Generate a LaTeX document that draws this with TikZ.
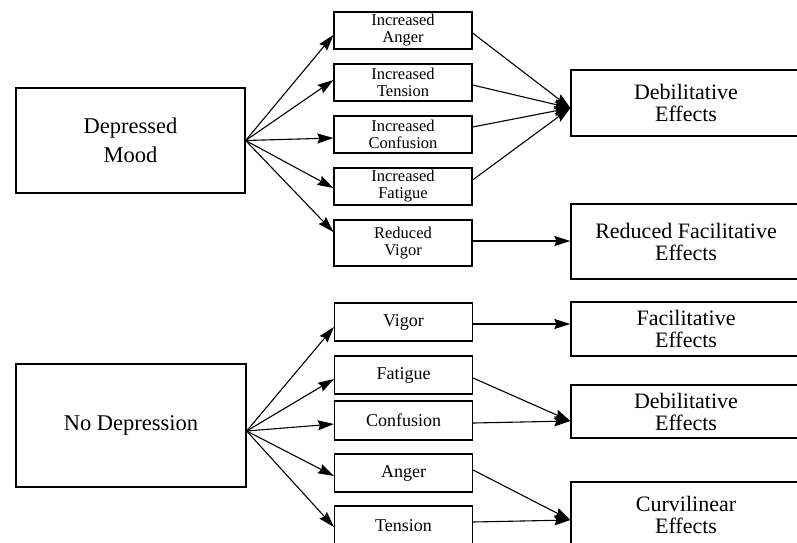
\documentclass[tikz,border=0pt]{standalone}
\usepackage{fontspec}
\setmainfont{Liberation Serif}
\usetikzlibrary{arrows.meta}
\tikzset{
  bigbox/.style={draw, line width=1.3pt, inner sep=0pt, align=center, font=\fontsize{22.5}{29}\selectfont},
  midbox/.style={draw, line width=1.2pt, inner sep=0pt, align=center, minimum width=138pt, font=\fontsize{16.5}{17}\selectfont},
  effbox/.style={draw, line width=1.3pt, inner sep=0pt, align=center, minimum width=230pt, font=\fontsize{22}{22}\selectfont},
  arr/.style={line width=1.1pt, -{Stealth[length=16pt,width=10pt,inset=2pt]}}
}
\begin{document}
\begin{tikzpicture}[x=1pt,y=-1pt]
\useasboundingbox (0,0) rectangle (797,542);
\clip (0,0) rectangle (797,542);
\fill[white] (0,0) rectangle (797,542);
% top group
\node[bigbox, minimum width=229pt, minimum height=105pt] (dm) at (130.5,140.5) {Depressed\\Mood};
\node[midbox, minimum height=37pt] (ia) at (403,30.5) {Increased\\Anger};
\node[midbox, minimum height=37pt] (it) at (403,82.5) {Increased\\Tension};
\node[midbox, minimum height=37pt] (ic) at (403,134.5) {Increased\\Confusion};
\node[midbox, minimum height=37pt] (ifa) at (403,186.5) {Increased\\Fatigue};
\node[midbox, minimum height=46pt] (rv) at (403,243) {Reduced\\Vigor};
\node[effbox, minimum height=66pt] (de1) at (686,103) {Debilitative\\Effects};
\node[effbox, minimum height=75pt] (rfe) at (686,241.5) {Reduced Facilitative\\Effects};
% bottom group
\node[bigbox, minimum width=230pt, minimum height=123pt] (nd) at (131,425.5) {No Depression};
\node[midbox, minimum height=38pt, font=\fontsize{18}{18}\selectfont] (v) at (403.5,322) {Vigor};
\node[midbox, minimum height=38pt, font=\fontsize{18}{18}\selectfont] (f) at (403.5,375) {Fatigue};
\node[midbox, minimum height=39pt, font=\fontsize{18}{18}\selectfont] (c) at (403.5,420.5) {Confusion};
\node[midbox, minimum height=38pt, font=\fontsize{18}{18}\selectfont] (a) at (403.5,473) {Anger};
\node[midbox, minimum height=40pt, font=\fontsize{18}{18}\selectfont] (t) at (403.5,526) {Tension};
\node[effbox, minimum height=54pt] (fe) at (686,329) {Facilitative\\Effects};
\node[effbox, minimum height=53pt] (de2) at (686,411.5) {Debilitative\\Effects};
\node[effbox, minimum height=66pt] (ce) at (686,515) {Curvilinear\\Effects};
% arrows top
\draw[arr] (dm.east) -- ([yshift=-4.5pt]ia.west);
\draw[arr] (dm.east) -- ([yshift=2.5pt]it.west);
\draw[arr] (dm.east) -- ([yshift=-3.5pt]ic.west);
\draw[arr] (dm.east) -- ([yshift=-1.5pt]ifa.west);
\draw[arr] (dm.east) -- ([yshift=11pt]rv.west);
\draw[arr] ([yshift=-2.5pt]ia.east) -- ([yshift=-5pt]de1.west);
\draw[arr] ([yshift=-2.5pt]it.east) -- ([yshift=-5pt]de1.west);
\draw[arr] ([yshift=7.5pt]ic.east) -- ([yshift=-5pt]de1.west);
\draw[arr] ([yshift=6.5pt]ifa.east) -- ([yshift=-5pt]de1.west);
\draw[arr] ([yshift=2pt]rv.east) -- ([yshift=2pt]rv.east -| rfe.west);
% arrows bottom
\draw[arr] ([yshift=-5.5pt]nd.east) -- ([yshift=-5pt]v.west);
\draw[arr] ([yshift=-5.5pt]nd.east) -- ([yshift=-4pt]f.west);
\draw[arr] ([yshift=-5.5pt]nd.east) -- ([yshift=-3.5pt]c.west);
\draw[arr] ([yshift=-5.5pt]nd.east) -- ([yshift=-3pt]a.west);
\draw[arr] ([yshift=-5.5pt]nd.east) -- ([yshift=-1pt]t.west);
\draw[arr] ([yshift=-2pt]v.east) -- ([yshift=-2pt]v.east -| fe.west);
\draw[arr] ([yshift=-3pt]f.east) -- ([yshift=-9.5pt]de2.west);
\draw[arr] ([yshift=-2.5pt]c.east) -- ([yshift=-9.5pt]de2.west);
\draw[arr] ([yshift=3pt]a.east) -- ([yshift=-5pt]ce.west);
\draw[arr] ([yshift=4pt]t.east) -- ([yshift=-5pt]ce.west);
\end{tikzpicture}
\end{document}
